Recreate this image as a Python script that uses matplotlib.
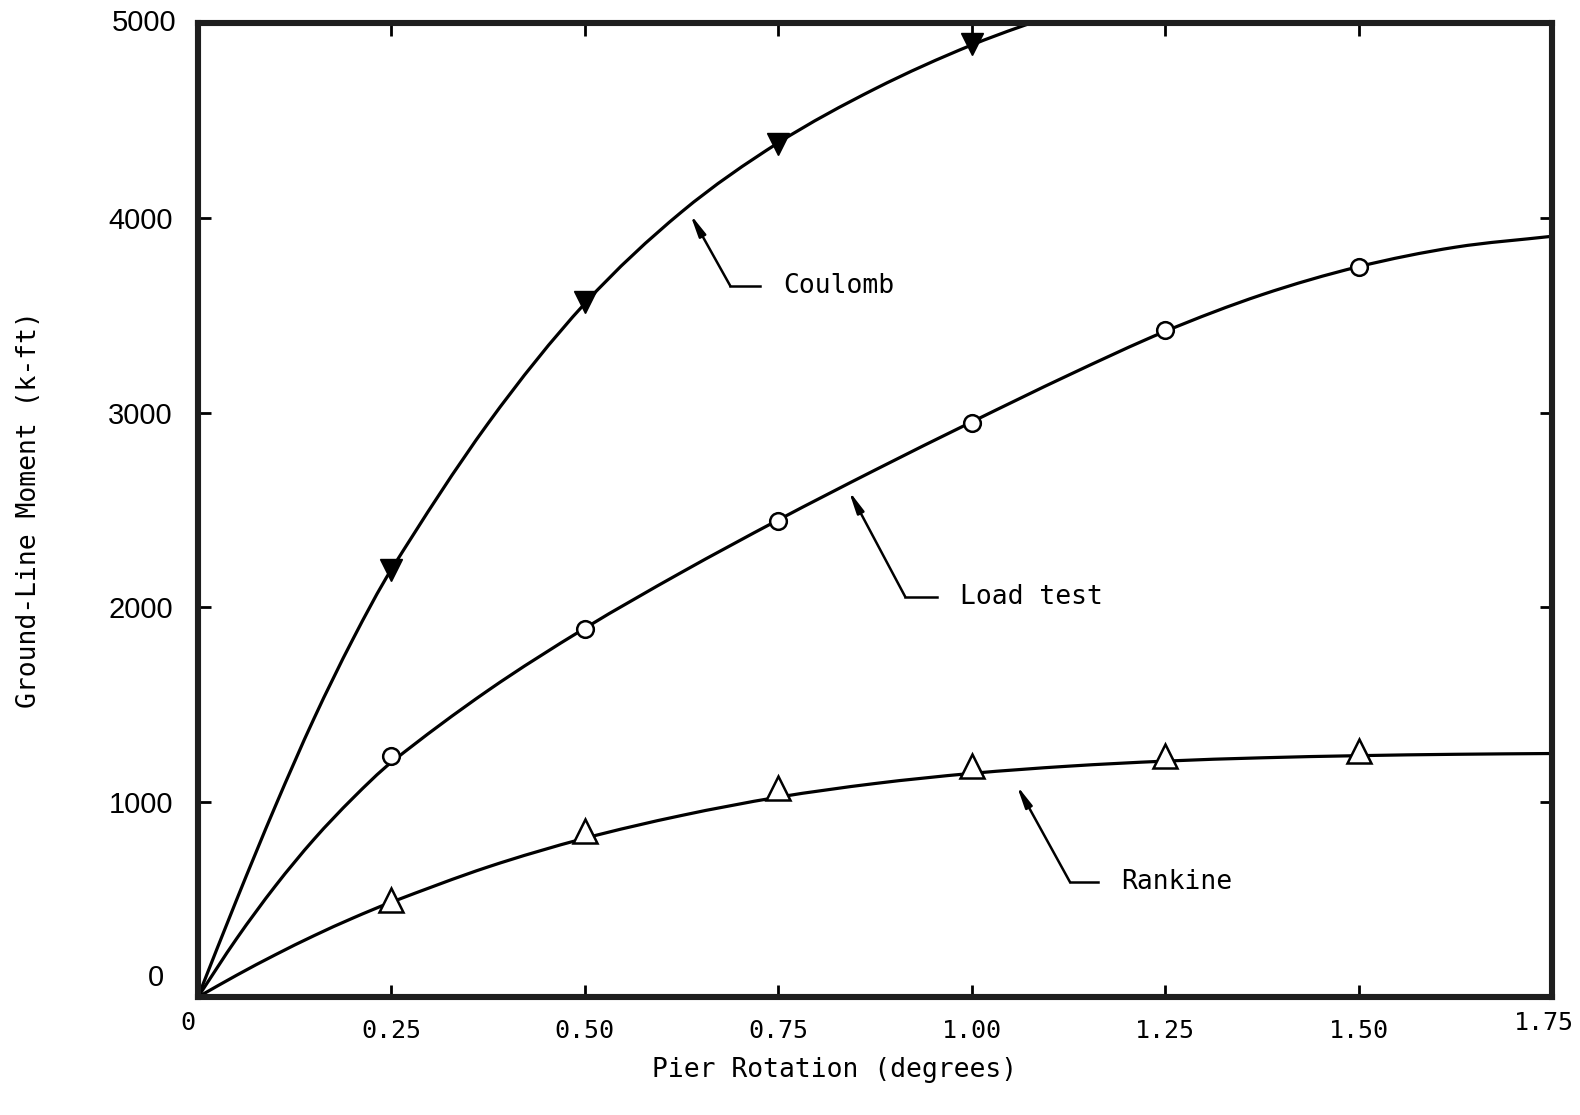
import numpy as np
import matplotlib.pyplot as plt
from matplotlib.path import Path
from matplotlib.patches import PathPatch

plt.rcParams['font.family'] = ['DejaVu Sans Mono']

# smooth curves
curve_x = [0, 0.05, 0.10, 0.15, 0.20, 0.25, 0.375, 0.50, 0.625, 0.75, 0.875,
           1.00, 1.125, 1.25, 1.375, 1.50, 1.625, 1.75]
coulomb_curve_x = [0, 0.05, 0.10, 0.15, 0.20, 0.25, 0.375, 0.50, 0.625, 0.75, 0.875,
                   1.00, 1.125]
coulomb_curve = [0, 500, 980, 1430, 1835, 2195, 2945, 3560, 4030, 4385, 4662,
                 4887, 5068]
loadtest_curve = [0, 300, 570, 810, 1020, 1205, 1574, 1893, 2180, 2449, 2705,
                  2952, 3192, 3417, 3605, 3749, 3849, 3905]
rankine_curve = [0, 112, 217, 315, 405, 487, 668, 815, 932, 1026, 1096,
                 1148, 1185, 1211, 1228, 1239, 1246, 1250]

# plotted points
coulomb_x = [0.25, 0.50, 0.75, 1.00]
coulomb_y = [2190, 3570, 4380, 4890]
loadtest_x = [0.25, 0.50, 0.75, 1.00, 1.25, 1.50]
loadtest_y = [1235, 1890, 2445, 2945, 3425, 3745]
rankine_x = [0.25, 0.50, 0.75, 1.00, 1.25, 1.50]
rankine_y = [500, 850, 1075, 1185, 1237, 1265]

x_ticks = [0.25, 0.50, 0.75, 1.00, 1.25, 1.50]
x_ticklabels = ['0.25', '0.50', '0.75', '1.00', '1.25', '1.50']
y_ticks = [1000, 2000, 3000, 4000]
y_ticklabels = ['1000', '2000', '3000', '4000']


def smooth_path(xs, ys):
    # cubic Hermite drawn as bezier segments through the read points
    xs = np.asarray(xs, float)
    ys = np.asarray(ys, float)
    n = len(xs)
    m = np.empty(n)
    m[0] = (ys[1] - ys[0]) / (xs[1] - xs[0])
    m[-1] = (ys[-1] - ys[-2]) / (xs[-1] - xs[-2])
    m[1:-1] = (ys[2:] - ys[:-2]) / (xs[2:] - xs[:-2])
    verts = [(xs[0], ys[0])]
    codes = [Path.MOVETO]
    for i in range(n - 1):
        h = xs[i + 1] - xs[i]
        verts += [(xs[i] + h / 3, ys[i] + m[i] * h / 3),
                  (xs[i + 1] - h / 3, ys[i + 1] - m[i + 1] * h / 3),
                  (xs[i + 1], ys[i + 1])]
        codes += [Path.CURVE4] * 3
    return Path(verts, codes)


fig = plt.figure(figsize=(15.8, 11.15), dpi=100)
ax = fig.add_axes([0.1253, 0.1058, 0.857, 0.8736])

for xs, ys in ((coulomb_curve_x, coulomb_curve), (curve_x, loadtest_curve),
               (curve_x, rankine_curve)):
    ax.add_patch(PathPatch(smooth_path(xs, ys), facecolor='none',
                           edgecolor='black', lw=2.3))

ax.plot(coulomb_x, coulomb_y, 'v', color='black', ms=16, zorder=3)
ax.plot(loadtest_x, loadtest_y, 'o', mfc='white', mec='black', mew=1.8, ms=12, zorder=3)
ax.plot(rankine_x, rankine_y, '^', mfc='white', mec='black', mew=1.8, ms=17, zorder=3)

ax.set_xlim(0, 1.75)
ax.set_ylim(0, 5000)

for s in ax.spines.values():
    s.set_linewidth(4.4)
    s.set_color('#1e1e1e')

ax.set_xticks(x_ticks)
ax.set_xticklabels(x_ticklabels)
ax.set_yticks(y_ticks)
ax.set_yticklabels(y_ticklabels, family='Liberation Sans', fontsize=21)
ax.tick_params(direction='in', length=9, width=2, top=True, right=True)
ax.tick_params(axis='y', pad=18, labelsize=21)
ax.tick_params(axis='x', pad=16, labelsize=18)

# corner labels
ax.text(-0.025, 100, '0', transform=ax.get_yaxis_transform(), ha='right', va='center',
        fontsize=21, family='Liberation Sans')
ax.text(-0.013, -0.014, '0', transform=ax.get_xaxis_transform(), ha='center', va='top',
        fontsize=18)
ax.text(1.74, -0.014, '1.75', transform=ax.get_xaxis_transform(), ha='center', va='top',
        fontsize=18)
ax.text(-0.016, 5000, '5000', transform=ax.get_yaxis_transform(), ha='right', va='center',
        fontsize=21, family='Liberation Sans')

ax.set_xlabel('Pier Rotation (degrees)', fontsize=19)
ax.xaxis.set_label_coords(0.4705, -0.062)
ax.set_ylabel('Ground-Line Moment (k-ft)', fontsize=19)
ax.yaxis.set_label_coords(-0.115, 0.5)

# leader annotations
arrow = dict(arrowstyle='-|>,head_length=1.3,head_width=0.22', color='black', lw=1.8,
             shrinkA=0, shrinkB=0)
for label, tip, knee, end in [
    ('Coulomb', (0.636, 4020), (0.688, 3650), (0.727, 3650)),
    ('Load test', (0.841, 2600), (0.914, 2055), (0.955, 2055)),
    ('Rankine', (1.058, 1088), (1.127, 590), (1.163, 590)),
]:
    ax.plot([end[0], knee[0]], [end[1], knee[1]], color='black', lw=1.8)
    ax.annotate('', xy=tip, xytext=knee, arrowprops=arrow)
    ax.text(end[0] + 0.03, end[1], label, fontsize=19, va='center', ha='left')

plt.savefig('out.png', dpi=100)
